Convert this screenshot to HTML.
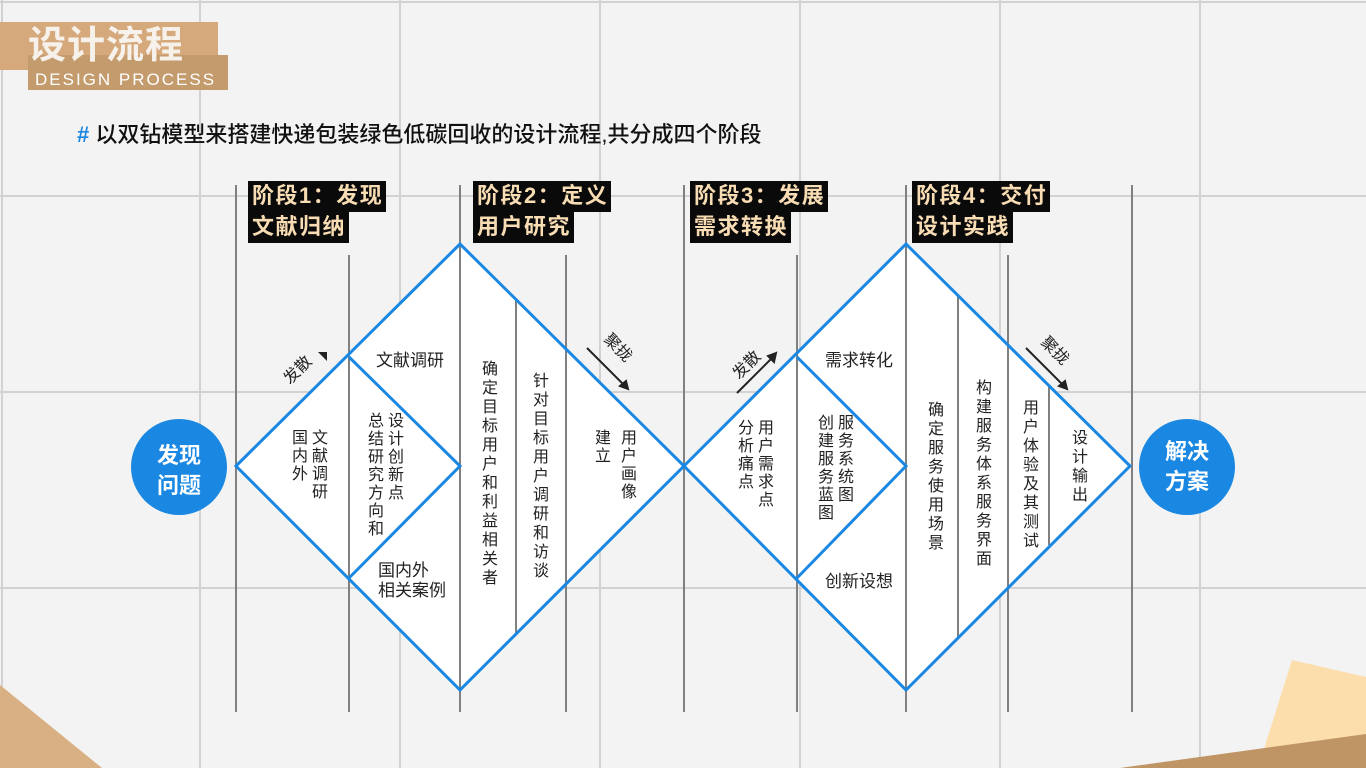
<!DOCTYPE html>
<html><head><meta charset="utf-8"><style>
body{margin:0;width:1366px;height:768px;overflow:hidden;background:#f3f3f3;font-family:"Liberation Sans","Noto Sans CJK SC",sans-serif;position:relative}
.a{position:absolute}
.v{position:absolute;writing-mode:vertical-rl;font-size:16px;line-height:20px;color:#222;letter-spacing:2px}
.h{position:absolute;font-size:17px;color:#222;white-space:nowrap}
.hd{position:absolute;font-size:22px;font-weight:bold;color:#f8dcb3;line-height:30px;letter-spacing:1.5px}
.hd span{background:#0a0a0a;padding:0 3px 1px 4px;display:inline-block}
</style></head><body>
<svg class="a" style="left:0;top:0" width="1366" height="768">
<g stroke="#d2d2d2" stroke-width="2">
<line x1="0" y1="2" x2="1366" y2="2"/><line x1="0" y1="196" x2="1366" y2="196"/><line x1="0" y1="392" x2="1366" y2="392"/><line x1="0" y1="588" x2="1366" y2="588"/>
<line x1="2" y1="0" x2="2" y2="768"/><line x1="200" y1="0" x2="200" y2="768"/><line x1="400" y1="0" x2="400" y2="768"/><line x1="600" y1="0" x2="600" y2="768"/><line x1="800" y1="0" x2="800" y2="768"/><line x1="1000" y1="0" x2="1000" y2="768"/><line x1="1200" y1="0" x2="1200" y2="768"/>
</g>
<polygon points="0,685 102,768 0,768" fill="#d9b083"/>
<polygon points="1292,660 1366,677 1366,768 1258,768" fill="#fcdead"/>
<polygon points="1120,768 1366,734 1366,768" fill="#bf9566"/>
<polygon points="236,466 460,244 684,466 460,690" fill="#fff"/>
<polygon points="684,466 906,244 1130,466 906,690" fill="#fff"/>
<g stroke="#808080" stroke-width="2">
<line x1="236" y1="185" x2="236" y2="712"/><line x1="349" y1="255" x2="349" y2="712"/><line x1="460" y1="185" x2="460" y2="712"/><line x1="566" y1="255" x2="566" y2="712"/><line x1="684" y1="185" x2="684" y2="712"/><line x1="797" y1="255" x2="797" y2="712"/><line x1="906" y1="185" x2="906" y2="712"/><line x1="1008" y1="255" x2="1008" y2="712"/><line x1="1132" y1="185" x2="1132" y2="712"/>
<line x1="516" y1="300" x2="516" y2="634"/><line x1="958" y1="296" x2="958" y2="638"/><line x1="1049" y1="387" x2="1049" y2="545"/>
</g>
<g stroke="#1a88e2" stroke-width="3" fill="none" stroke-linejoin="miter">
<polygon points="236,466 460,244 684,466 460,690"/>
<polygon points="684,466 906,244 1130,466 906,690"/>
<polyline points="349,357 460,466 349,578"/>
<polyline points="797,357 906,466 797,578"/>
</g>
<circle cx="179" cy="467" r="48" fill="#1a88e2"/>
<circle cx="1187" cy="467" r="48" fill="#1a88e2"/>
<g font-size="22" font-weight="bold" fill="#fff" text-anchor="middle">
<text x="179" y="463">发现</text><text x="179" y="493">问题</text>
<text x="1187" y="459">解决</text><text x="1187" y="489">方案</text>
</g>
<g font-size="16" fill="#222">
<text transform="translate(290,385) rotate(-45)">发散</text>
<polygon points="318,352 327,352 327,361" fill="#222"/>
<text transform="translate(739,380) rotate(-45)">发散</text>
<line x1="737" y1="393" x2="775" y2="355" stroke="#222" stroke-width="2"/>
<polygon points="776,353 768,356 774,362" fill="#222" stroke="#222" stroke-width="2"/>
<text transform="translate(603,340) rotate(45)">聚拢</text>
<line x1="587" y1="348" x2="626" y2="387" stroke="#222" stroke-width="2"/>
<polygon points="628,389 620,386 626,381" fill="#222" stroke="#222" stroke-width="2"/>
<text transform="translate(1040,343) rotate(45)">聚拢</text>
<line x1="1026" y1="348" x2="1065" y2="387" stroke="#222" stroke-width="2"/>
<polygon points="1067,389 1059,386 1065,381" fill="#222" stroke="#222" stroke-width="2"/>
</g>
</svg>
<div class="a" style="left:0;top:22px;width:218px;height:48px;background:#d5a97b"></div>
<div class="a" style="left:28px;top:55px;width:200px;height:35px;background:#c49b6c"></div>
<div class="a" style="left:28px;top:22px;font-size:38px;font-weight:bold;color:#f6f1ea;line-height:48px;letter-spacing:1px">设计流程</div>
<div class="a" style="left:35px;top:70px;font-size:17px;color:#fff;letter-spacing:2px;line-height:20px">DESIGN PROCESS</div>
<div class="a" style="left:77px;top:120px;font-size:22px;font-weight:500;color:#111;line-height:30px"><span style="color:#1a88e2;font-weight:bold">#</span> 以双钻模型来搭建快递包装绿色低碳回收的设计流程,共分成四个阶段</div>
<div class="hd" style="left:248px;top:181px"><span>阶段1：发现</span><br><span>文献归纳</span></div>
<div class="hd" style="left:473px;top:181px"><span>阶段2：定义</span><br><span>用户研究</span></div>
<div class="hd" style="left:690px;top:181px"><span>阶段3：发展</span><br><span>需求转换</span></div>
<div class="hd" style="left:912px;top:181px"><span>阶段4：交付</span><br><span>设计实践</span></div>
<div class="v" style="left:287px;top:429px">文献调研<br>国内外</div>
<div class="v" style="left:363px;top:412px">设计创新点<br>总结研究方向和</div>
<div class="h" style="left:376px;top:346px">文献调研</div>
<div class="h" style="left:378px;top:561px;line-height:20px">国内外<br>相关案例</div>
<div class="v" style="left:477px;top:360px;letter-spacing:3px">确定目标用户和利益相关者</div>
<div class="v" style="left:528px;top:372px;letter-spacing:3px">针对目标用户调研和访谈</div>
<div class="v" style="left:587px;top:429px;line-height:26px">用户画像<br>建立</div>
<div class="v" style="left:733px;top:419px">用户需求点<br>分析痛点</div>
<div class="h" style="left:825px;top:346px">需求转化</div>
<div class="v" style="left:813px;top:414px">服务系统图<br>创建服务蓝图</div>
<div class="h" style="left:825px;top:567px">创新设想</div>
<div class="v" style="left:923px;top:401px;letter-spacing:3px">确定服务使用场景</div>
<div class="v" style="left:971px;top:379px;letter-spacing:3px">构建服务体系服务界面</div>
<div class="v" style="left:1018px;top:399px;letter-spacing:3px">用户体验及其测试</div>
<div class="v" style="left:1067px;top:429px;letter-spacing:3px">设计输出</div>
</body></html>
